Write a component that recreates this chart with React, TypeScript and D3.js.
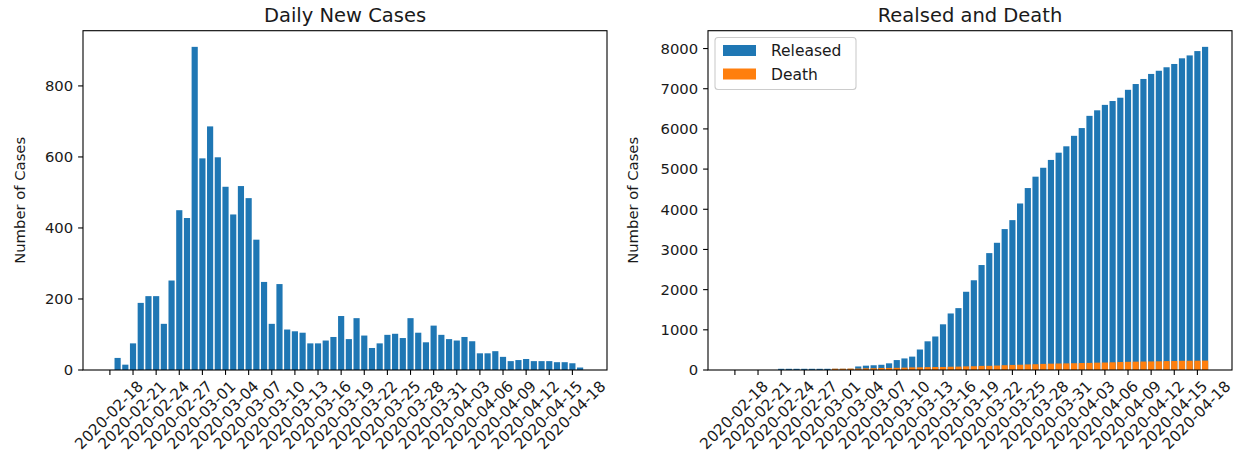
import React from "react";
import * as d3 from "d3";

const dates: string[] = [
  "2020-02-18","2020-02-19","2020-02-20","2020-02-21","2020-02-22","2020-02-23","2020-02-24","2020-02-25","2020-02-26","2020-02-27","2020-02-28","2020-02-29",
  "2020-03-01","2020-03-02","2020-03-03","2020-03-04","2020-03-05","2020-03-06","2020-03-07","2020-03-08","2020-03-09","2020-03-10","2020-03-11","2020-03-12","2020-03-13","2020-03-14","2020-03-15","2020-03-16","2020-03-17","2020-03-18","2020-03-19","2020-03-20","2020-03-21","2020-03-22","2020-03-23","2020-03-24","2020-03-25","2020-03-26","2020-03-27","2020-03-28","2020-03-29","2020-03-30","2020-03-31",
  "2020-04-01","2020-04-02","2020-04-03","2020-04-04","2020-04-05","2020-04-06","2020-04-07","2020-04-08","2020-04-09","2020-04-10","2020-04-11","2020-04-12","2020-04-13","2020-04-14","2020-04-15","2020-04-16","2020-04-17","2020-04-18","2020-04-19"
];

const newCases: number[] = [
  0, 34, 15, 75, 189, 208, 208, 130, 252, 450, 428, 910,
  596, 686, 599, 516, 438, 518, 484, 367, 248, 130, 242, 114, 109, 105, 75, 75, 83, 93, 152, 87, 146, 97, 62, 75, 99, 102, 90, 146, 105, 78, 125,
  99, 87, 83, 93, 81, 47, 47, 53, 37, 25, 28, 31, 25, 25, 25, 22, 22, 19, 7
];

const released: number[] = [
  0, 0, 0, 0, 0, 0, 30, 30, 30, 30, 30, 30,
  30, 30, 30, 30, 88, 108, 118, 130, 166, 247, 288, 333, 510, 714, 834, 1137, 1407, 1540, 1947, 2233, 2612, 2909, 3166, 3507, 3730, 4144, 4528, 4811, 5033, 5228, 5408,
  5567, 5828, 6021, 6325, 6463, 6598, 6694, 6776, 6973, 7117, 7243, 7368, 7447, 7534, 7616, 7757, 7829, 7937, 8042
];

const deaths: number[] = [
  0, 0, 0, 0, 0, 0, 0, 0, 0, 0, 0, 0,
  0, 32, 32, 35, 35, 42, 44, 50, 51, 54, 60, 66, 67, 72, 75, 75, 81, 84, 91, 94, 102, 104, 111, 120, 126, 131, 139, 144, 152, 158, 162,
  165, 169, 174, 177, 183, 186, 192, 200, 204, 208, 211, 214, 217, 222, 225, 229, 230, 232, 234
];

const tickDates: string[] = [
  "2020-02-18","2020-02-21","2020-02-24","2020-02-27","2020-03-01","2020-03-04","2020-03-07","2020-03-10","2020-03-13","2020-03-16","2020-03-19",
  "2020-03-22","2020-03-25","2020-03-28","2020-03-31","2020-04-03","2020-04-06","2020-04-09","2020-04-12","2020-04-15","2020-04-18"
];
const leftYTicks: number[] = [0, 200, 400, 600, 800];
const rightYTicks: number[] = [0, 1000, 2000, 3000, 4000, 5000, 6000, 7000, 8000];

const BLUE = "#1f77b4";
const ORANGE = "#ff7f0e";
const FONT = "DejaVu Sans, sans-serif";
const TICK_FS = 14.8;
const XTICK_FS = 15.3;
const LEGEND_FS = 15.5;
const TITLE_FS = 19.5;
const TEXT = "#1a1a1a";
const DAY = 86400000;

const parse = d3.utcParse("%Y-%m-%d");
const fmt = d3.utcFormat("%Y-%m-%d");

type Panel = { x0: number; x1: number; y0: number; y1: number };

function xScaleFor(p: Panel) {
  const ds = dates.map((d) => parse(d)!.getTime());
  const lo = d3.min(ds)! - 0.4 * DAY;
  const hi = d3.max(ds)! + 0.4 * DAY;
  const m = (hi - lo) * 0.05;
  return d3.scaleLinear().domain([lo - m, hi + m]).range([p.x0, p.x1]);
}

function Axes({ p, yTicks, yScale, title, x }: any) {
  const tl = 4.9;
  const ascent = XTICK_FS * 0.76;
  const descent = XTICK_FS * 0.24;
  return (
    <g>
      <rect x={p.x0} y={p.y0} width={p.x1 - p.x0} height={p.y1 - p.y0} fill="none" stroke="#000" strokeWidth={1.1} />
      {tickDates.map((t) => {
        const tx = x(parse(t)!.getTime());
        const label = fmt(parse(t)!);
        const L = label.length * 0.581 * XTICK_FS;
        const px = tx + 0.3535 * (L + ascent - descent);
        const py = p.y1 + tl + 4.2 + 0.707 * ascent;
        return (
          <g key={t}>
            <line x1={tx} x2={tx} y1={p.y1} y2={p.y1 + tl} stroke="#000" strokeWidth={1.1} />
            <text x={px} y={py} fontSize={XTICK_FS} fontFamily={FONT} textAnchor="end" fill={TEXT}
              transform={`rotate(-45 ${px} ${py})`}>{label}</text>
          </g>
        );
      })}
      {yTicks.map((v: number) => {
        const ty = yScale(v);
        return (
          <g key={v}>
            <line x1={p.x0 - tl} x2={p.x0} y1={ty} y2={ty} stroke="#000" strokeWidth={1.1} />
            <text x={p.x0 - tl - 4.9} y={ty} dy="0.36em" fontSize={TICK_FS} fontFamily={FONT} textAnchor="end" fill={TEXT}>{v}</text>
          </g>
        );
      })}
      <text x={(p.x0 + p.x1) / 2} y={p.y0 - 8.5} fontSize={TITLE_FS} fontFamily={FONT} textAnchor="middle" fill={TEXT}>{title}</text>
    </g>
  );
}

export default function App() {
  const left: Panel = { x0: 83, x1: 607, y0: 30.7, y1: 370 };
  const right: Panel = { x0: 708, x1: 1232, y0: 30.7, y1: 370 };
  const xl = xScaleFor(left);
  const xr = xScaleFor(right);
  const yl = d3.scaleLinear().domain([0, d3.max(newCases)! * 1.05]).range([left.y1, left.y0]);
  const yr = d3.scaleLinear().domain([0, d3.max(released)! * 1.05]).range([right.y1, right.y0]);
  const bw = (x: any) => x(0.8 * DAY) - x(0);
  const bwl = bw(xl);
  const bwr = bw(xr);

  return (
    <svg width={1236} height={458} style={{ position: "absolute", left: 0, top: 0, background: "#fff" }}>
      <rect x={0} y={0} width={1236} height={458} fill="#fff" />
      <g>
        {dates.map((d, i) => {
          const cx = xl(parse(d)!.getTime());
          const v = newCases[i];
          return <rect key={d} x={cx - bwl / 2} y={yl(v)} width={bwl} height={yl(0) - yl(v)} fill={BLUE} />;
        })}
      </g>
      <Axes p={left} yTicks={leftYTicks} yScale={yl} title="Daily New Cases" x={xl} />
      <text transform={`translate(20 ${(left.y0 + left.y1) / 2}) rotate(-90)`} textAnchor="middle" dy="0.36em"
        fontSize={TICK_FS} fontFamily={FONT} fill={TEXT}>Number of Cases</text>

      <g>
        {dates.map((d, i) => {
          const cx = xr(parse(d)!.getTime());
          const v = released[i];
          return <rect key={d} x={cx - bwr / 2} y={yr(v)} width={bwr} height={yr(0) - yr(v)} fill={BLUE} />;
        })}
        {dates.map((d, i) => {
          const cx = xr(parse(d)!.getTime());
          const v = deaths[i];
          return <rect key={"d" + d} x={cx - bwr / 2} y={yr(v)} width={bwr} height={yr(0) - yr(v)} fill={ORANGE} />;
        })}
      </g>
      <Axes p={right} yTicks={rightYTicks} yScale={yr} title="Realsed and Death" x={xr} />
      <text transform={`translate(633 ${(right.y0 + right.y1) / 2}) rotate(-90)`} textAnchor="middle" dy="0.36em"
        fontSize={TICK_FS} fontFamily={FONT} fill={TEXT}>Number of Cases</text>

      <g>
        <rect x={715} y={37.5} width={141} height={52} rx={3} fill="#fff" fillOpacity={0.8} stroke="#ccc" strokeWidth={1.1} />
        <rect x={723} y={45} width={33} height={11} fill={BLUE} />
        <rect x={723} y={68.5} width={33} height={11} fill={ORANGE} />
        <text x={771} y={50.5} dy="0.36em" fontSize={LEGEND_FS} fontFamily={FONT} fill={TEXT}>Released</text>
        <text x={771} y={74} dy="0.36em" fontSize={LEGEND_FS} fontFamily={FONT} fill={TEXT}>Death</text>
      </g>
    </svg>
  );
}
